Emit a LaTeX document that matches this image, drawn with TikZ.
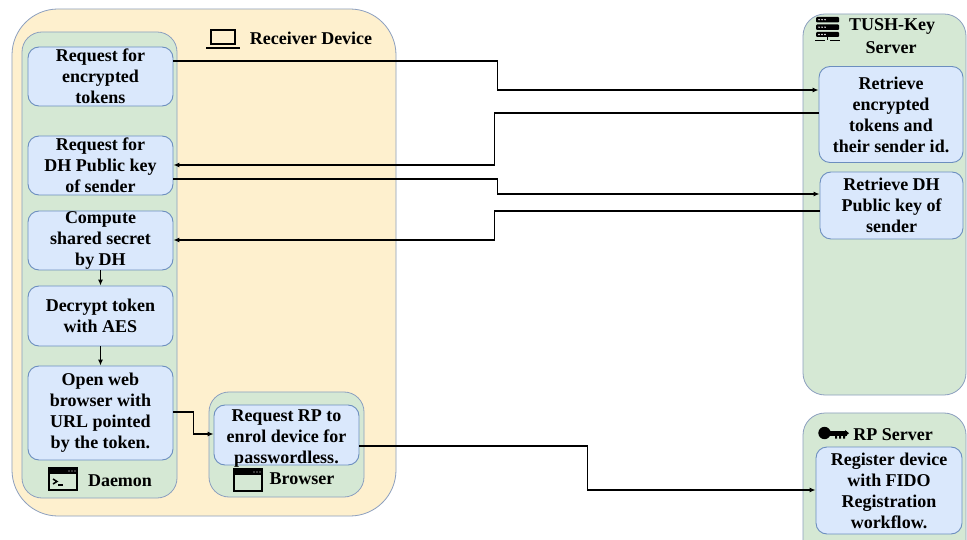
\documentclass[tikz,border=0pt]{standalone}
\usepackage{fontspec}
\setmainfont{Liberation Serif}[BoldFont={Liberation Serif Bold},ItalicFont={Liberation Serif Italic}]
\newfontfamily\lserifbold{Liberation Serif Bold}
\usetikzlibrary{arrows.meta,calc}
\definecolor{yelfill}{HTML}{FEF0CE}
\definecolor{grnfill}{HTML}{D5E8D4}
\definecolor{bluefill}{HTML}{DAE8FC}
\definecolor{bluestroke}{HTML}{6C8EBF}
\definecolor{contstroke}{HTML}{8C9FBF}
\tikzset{
  cont/.style={rectangle, draw=contstroke, line width=0.8bp, inner sep=0pt},
  inbox/.style={rectangle, draw=bluestroke, fill=bluefill, line width=0.9bp, rounded corners=11bp, inner sep=0pt},
  txt/.style={inner sep=0pt, align=center, font=\lserifbold\fontsize{18bp}{21bp}\selectfont},
  arr/.style={line width=1.3bp, -{Latex[length=6bp,width=5bp]}},
  ln/.style={line width=1.3bp},
  icon/.style={line width=2.4bp, black}
}
\begin{document}
\begin{tikzpicture}[x=1bp,y=-1bp]
\useasboundingbox (0,0) rectangle (967,540);
\clip (0,0) rectangle (967,540);
\fill[white] (0,0) rectangle (967,540);

% containers
\node[cont, fill=yelfill, rounded corners=46bp, minimum width=384bp, minimum height=507bp] (recv) at (204,262.5) {};
\node[cont, fill=grnfill, rounded corners=20bp, minimum width=155bp, minimum height=466bp] (daemon) at (99.5,265) {};
\node[cont, fill=grnfill, rounded corners=20bp, minimum width=155bp, minimum height=105bp] (browser) at (286.5,444.5) {};
\node[cont, fill=grnfill, rounded corners=22bp, minimum width=163bp, minimum height=381bp] (tush) at (884.5,204.5) {};
\node[cont, fill=grnfill, rounded corners=22bp, minimum width=163bp, minimum height=150bp] (rp) at (884.5,488) {};

% inner boxes
\node[inbox, minimum width=145bp, minimum height=59bp] (req1) at (100.5,76.5) {};
\node[txt] (req1t) at (req1) {Request for\\encrypted\\tokens};
\node[inbox, minimum width=145bp, minimum height=59bp] (req2) at (100.5,165.5) {};
\node[txt] (req2t) at (req2) {Request for\\DH Public key\\of sender};
\node[inbox, minimum width=145bp, minimum height=59bp] (comp) at (100.5,240.5) {};
\node[txt] (compt) at (comp) {Compute\\shared secret\\by DH};
\node[inbox, minimum width=145bp, minimum height=60bp] (decr) at (100.5,316) {};
\node[txt] (decrt) at (decr) {Decrypt token\\with AES};
\node[inbox, minimum width=145bp, minimum height=94bp] (open) at (100.5,413) {};
\node[txt] (opent) at (open) {Open web\\browser with\\URL pointed\\by the token.};
\node[inbox, minimum width=145bp, minimum height=60bp] (reqrp) at (286.5,435) {};
\node[txt] (reqrpt) at ([yshift=-3.5bp]reqrp.center) {Request RP to\\enrol device for\\passwordless.};
\node[inbox, minimum width=144bp, minimum height=96bp] (ret1) at (891,114.5) {};
\node[txt] (ret1t) at (ret1) {Retrieve\\encrypted\\tokens and\\their sender id.};
\node[inbox, minimum width=143bp, minimum height=67bp] (ret2) at (891.5,205.5) {};
\node[txt] (ret2t) at (ret2) {Retrieve DH\\Public key of\\sender};
\node[inbox, minimum width=146bp, minimum height=87bp] (reg) at (889,490.5) {};
\node[txt] (regt) at (reg) {Register device\\with FIDO\\Registration\\workflow.};

% labels
\node[txt] (recvl) at (311,38) {Receiver Device};
\node[txt] (daemonl) at (120,481) {Daemon};
\node[txt] (browserl) at (302,479) {Browser};
\node[txt] (tushl1) at (892,26) {TUSH-Key};
\node[txt] (tushl2) at (891,48) {Server};
\node[txt] (rpl) at (893,435) {RP Server};

% icons: laptop
\draw[icon] (211,30) rectangle (235,44);
\draw[icon] (206,48) -- (240,48);
% terminal icon
\draw[icon] (49,468.5) rectangle (77,490);
\fill[black] (49,468.5) rectangle (77,473.5);
\fill[white] (69,471) circle (0.6) (72,471) circle (0.6) (75,471) circle (0.6);
\draw[line width=1.5bp] (53,479) -- (57,481.5) -- (53,484);
\draw[line width=1.5bp] (58,485) -- (63,485);
% browser icon
\draw[icon] (234,469.5) rectangle (262,491);
\fill[black] (234,469.5) rectangle (262,474.5);
\fill[white] (254,472) circle (0.6) (257,472) circle (0.6) (260,472) circle (0.6);
% server icon
\fill[black, rounded corners=1bp] (816,17) rectangle (839,22.5);
\fill[black, rounded corners=1bp] (816,24.5) rectangle (839,30);
\fill[black, rounded corners=1bp] (816,32) rectangle (839,37);
\fill[white] (819,19.7) circle (0.8) (822,19.7) circle (0.8) (825,19.7) circle (0.8);
\fill[white] (819,27.2) circle (0.8) (822,27.2) circle (0.8) (825,27.2) circle (0.8);
\fill[white] (819,34.5) circle (0.8) (822,34.5) circle (0.8) (825,34.5) circle (0.8);
\draw[line width=1.6bp] (815,40.5) -- (825,40.5) (830,40.5) -- (840,40.5);
\draw[line width=1.6bp] (827.5,37) -- (827.5,40.5);
% key icon
\fill[black] (824.5,433) circle (6.2);
\fill[black] (829,431) rectangle (847,435.5);
\fill[black] (835,435) rectangle (837,438.5) (839,435) rectangle (841,438.5) (843,435) rectangle (845,438.5);
\fill[black] (845,430) -- (849,433.2) -- (845,436.5) -- cycle;

% connectors
\draw[arr] ([yshift=15.5bp]req1.east) -- ++(324,0) |- ([yshift=24.5bp]ret1.west);
\draw[arr] ([yshift=1.5bp]ret1.west) -- ++(-324,0) |- ([yshift=0.5bp]req2.east);
\draw[arr] ([yshift=-13.5bp]req2.east) -- ++(324,0) |- ([yshift=11.5bp]ret2.west);
\draw[arr] ([yshift=-5.5bp]ret2.west) -- ++(-325,0) |- ([yshift=0.5bp]comp.east);
\draw[arr] ([yshift=-11bp]reqrp.east) -- ++(228,0) |- ([yshift=0.5bp]reg.west);
\draw[arr] ([yshift=1bp]open.east) -- ++(20,0) |- ([yshift=1bp]reqrp.west);
\draw[arr] (comp.south) -- (decr.north);
\draw[arr] (decr.south) -- (open.north);
\end{tikzpicture}
\end{document}
